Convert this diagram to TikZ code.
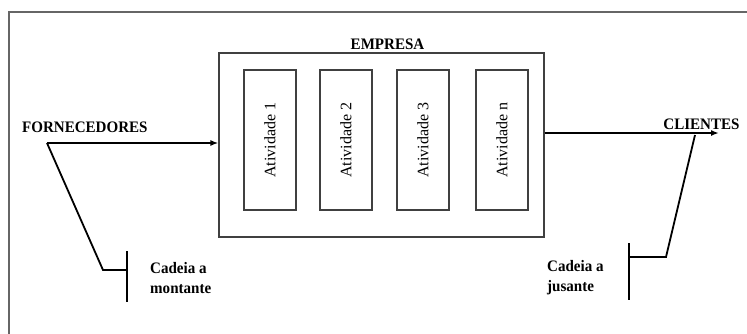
\documentclass[tikz,border=0pt]{standalone}
\usepackage{fontspec}
\setmainfont{Liberation Serif}
\newfontfamily\cond{Liberation Serif}[FakeStretch=0.94]
\usetikzlibrary{arrows.meta}
\begin{document}
\begin{tikzpicture}[x=1pt,y=-1pt,
  frameline/.style={draw=black!60,line width=1.3pt},
  boxline/.style={draw=black!75,line width=1.1pt},
  actbox/.style={boxline,minimum width=52pt,minimum height=140pt,inner sep=0pt},
  actlabel/.style={rotate=90,font=\fontsize{16}{18}\selectfont},
  lbl/.style={font=\cond\bfseries\fontsize{16}{20}\selectfont,inner sep=0pt},
  flow/.style={line width=1.8pt,-{Latex[length=8pt,width=6pt]}},
  link/.style={line width=1.8pt}]
\useasboundingbox (0,0) rectangle (747,333);
\fill[white] (0,0) rectangle (747,333);
\draw[frameline] (9,340) -- (9,12) -- (760,12);
\node[boxline,minimum width=325pt,minimum height=184pt,inner sep=0pt] (empresa) at (381.5,145) {};
\node[lbl] (emplabel) at (387.5,44) {EMPRESA};
\node[actbox] (a1) at (270,140) {};
\node[actlabel] (t1) at (a1.center) {Atividade 1};
\node[actbox] (a2) at (346,140) {};
\node[actlabel] (t2) at (a2.center) {Atividade 2};
\node[actbox] (a3) at (423,140) {};
\node[actlabel] (t3) at (a3.center) {Atividade 3};
\node[actbox] (an) at (502,140) {};
\node[actlabel] (tn) at (an.center) {Atividade n};
\node[lbl,anchor=west] (forn) at (22,127) {FORNECEDORES};
\node[lbl] (cli) at (701.5,124) {CLIENTES};
\coordinate (fstart) at (47,143);
\coordinate (fbend) at (103,270);
\coordinate (fjoin) at (127,270);
\coordinate (fbartop) at (127,251);
\coordinate (fbarbot) at (127,302);
\draw[flow] (fstart) -- (fstart -| empresa.west);
\draw[link] (fstart) -- (fbend) -- (fjoin);
\draw[link] (fbartop) -- (fbarbot);
\coordinate (cstart) at (544,133);
\coordinate (cend) at (719,133);
\coordinate (ctop) at (695,135);
\coordinate (cbend) at (666,257);
\coordinate (cjoin) at (629,257);
\coordinate (cbartop) at (629,243);
\coordinate (cbarbot) at (629,300);
\draw[flow] (cstart -| empresa.east) -- (cend);
\draw[link] (ctop) -- (cbend) -- (cjoin);
\draw[link] (cbartop) -- (cbarbot);
\node[lbl,anchor=west,align=left] (mont) at (150,278) {Cadeia a\\montante};
\node[lbl,anchor=west,align=left] (jus) at (547,278) {Cadeia a\\jusante};
\end{tikzpicture}
\end{document}
